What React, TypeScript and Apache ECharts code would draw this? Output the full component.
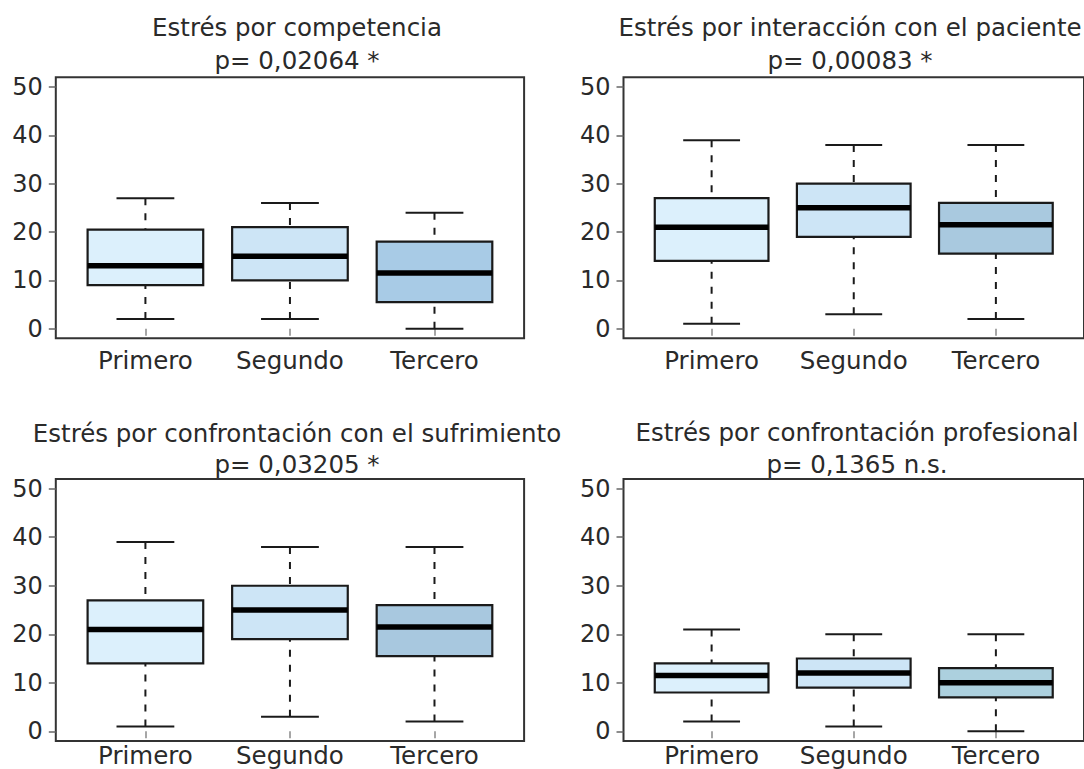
import React, { useEffect, useRef } from "react";
import * as echarts from "echarts";

// ---- data ----
const categories = ["Primero", "Segundo", "Tercero"];
const yTicks = [0, 10, 20, 30, 40, 50];
const titles = [
  "Estrés por competencia",
  "Estrés por interacción con el paciente",
  "Estrés por confrontación con el sufrimiento",
  "Estrés por confrontación profesional",
];
const pLabels = ["p= 0,02064 *", "p= 0,00083 *", "p= 0,03205 *", "p= 0,1365 n.s."];
// each box: [min, Q1, median, Q3, max]
const competencia = [
  [2, 9, 13, 20.5, 27],
  [2, 10, 15, 21, 26],
  [0, 5.5, 11.5, 18, 24],
];
const interaccion = [
  [1, 14, 21, 27, 39],
  [3, 19, 25, 30, 38],
  [2, 15.5, 21.5, 26, 38],
];
const sufrimiento = [
  [1, 14, 21, 27, 39],
  [3, 19, 25, 30, 38],
  [2, 15.5, 21.5, 26, 38],
];
const profesional = [
  [2, 8, 11.5, 14, 21],
  [1, 9, 12, 15, 20],
  [0, 7, 10, 13, 20],
];
const panelsData = [competencia, interaccion, sufrimiento, profesional];

// ---- styles / layout ----
const FONT = "DejaVu Sans";
const TEXT = "#2a2a2a";
const TITLE_SIZE = 24.5;
const LABEL_SIZE = 24.5;
const TICK_SIZE = 24;
const fills = [
  ["#dcf0fc", "#cde5f6", "#a8cbe6"],
  ["#dcf0fc", "#cde5f6", "#a9c9df"],
  ["#dcf0fc", "#cde5f6", "#a8c8df"],
  ["#dcf0fc", "#cde5f6", "#acd0de"],
];
const layouts = [
  { left: 55.8, top: 77.3, width: 468.3, height: 261, cx: 297, t1: 27.5, t2: 60.3, lm: 10 },
  { left: 623.5, top: 77.3, width: 468.3, height: 261, cx: 850, t1: 27.8, t2: 60.5, lm: 10 },
  { left: 55.8, top: 479, width: 468.3, height: 262, cx: 297, t1: 433, t2: 464.2, lm: 2 },
  { left: 623.5, top: 479, width: 468.3, height: 262, cx: 857, t1: 432.5, t2: 464.6, lm: 2 },
];

function makeRenderItem(panel: number) {
  return (params: any, api: any) => {
    const x = api.value(0);
    const lo = api.coord([x, api.value(1)]);
    const q1 = api.coord([x, api.value(2)]);
    const med = api.coord([x, api.value(3)]);
    const q3 = api.coord([x, api.value(4)]);
    const hi = api.coord([x, api.value(5)]);
    const unit = api.size([1, 0])[0];
    const bw = unit * 0.8;
    const cw = unit * 0.4;
    const cx = lo[0];
    const dash = { stroke: "#1a1a1a", lineWidth: 2, lineDash: [7, 8] };
    const solid = { stroke: "#1a1a1a", lineWidth: 2 };
    return {
      type: "group",
      children: [
        { type: "line", shape: { x1: cx, y1: hi[1], x2: cx, y2: q3[1] }, style: dash },
        { type: "line", shape: { x1: cx, y1: lo[1], x2: cx, y2: q1[1] }, style: dash },
        { type: "line", shape: { x1: cx - cw / 2, y1: hi[1], x2: cx + cw / 2, y2: hi[1] }, style: solid },
        { type: "line", shape: { x1: cx - cw / 2, y1: lo[1], x2: cx + cw / 2, y2: lo[1] }, style: solid },
        {
          type: "rect",
          shape: { x: cx - bw / 2, y: q3[1], width: bw, height: q1[1] - q3[1] },
          style: { fill: fills[panel][params.dataIndex], stroke: "#1a1a1a", lineWidth: 2.2 },
        },
        {
          type: "line",
          shape: { x1: cx - bw / 2, y1: med[1], x2: cx + bw / 2, y2: med[1] },
          style: { stroke: "#000", lineWidth: 5.5 },
        },
      ],
    };
  };
}

export default function App() {
  const ref = useRef<HTMLDivElement>(null);
  useEffect(() => {
    if (!ref.current) return;
    const chart = echarts.init(ref.current, null, { renderer: "svg" });
    const grids = layouts.map((l) => ({
      left: l.left,
      top: l.top,
      width: l.width,
      height: l.height,
      show: true,
      borderColor: "#333",
      borderWidth: 2,
      backgroundColor: "#fff",
      containLabel: false,
    }));
    const xAxes = layouts.map((l, i) => ({
      type: "value",
      gridIndex: i,
      min: 0.38,
      max: 3.62,
      splitLine: { show: false },
      axisLine: { show: false },
      axisTick: {
        show: true,
        length: 7,
        customValues: [1, 2, 3],
        lineStyle: { color: "#888", width: 1.5 },
      },
      axisLabel: {
        customValues: [1, 2, 3],
        formatter: (v: number) => categories[Math.round(v) - 1] ?? "",
        margin: l.lm,
        fontSize: LABEL_SIZE,
        fontFamily: FONT,
        color: TEXT,
      },
    }));
    const yAxes = layouts.map((_, i) => ({
      type: "value",
      gridIndex: i,
      min: -2,
      max: 52,
      splitLine: { show: false },
      axisLine: { show: false },
      axisTick: {
        show: true,
        length: 7,
        customValues: yTicks,
        lineStyle: { color: "#666", width: 1.5 },
      },
      axisLabel: {
        customValues: yTicks,
        margin: 13,
        fontSize: TICK_SIZE,
        fontFamily: FONT,
        color: TEXT,
      },
    }));
    const series = panelsData.map((d, i) => ({
      type: "custom",
      xAxisIndex: i,
      yAxisIndex: i,
      encode: { x: 0, y: [1, 2, 3, 4, 5] },
      data: d.map((s, k) => [k + 1, ...s]),
      renderItem: makeRenderItem(i),
      silent: true,
    }));
    const graphic: any[] = [];
    layouts.forEach((l, i) => {
      [titles[i], pLabels[i]].forEach((t, j) => {
        graphic.push({
          type: "text",
          x: l.cx,
          y: j === 0 ? l.t1 : l.t2,
          silent: true,
          style: {
            text: t,
            fill: TEXT,
            font: `${TITLE_SIZE}px "${FONT}"`,
            fontSize: TITLE_SIZE,
            fontFamily: FONT,
            align: "center",
            verticalAlign: "middle",
            textAlign: "center",
            textVerticalAlign: "middle",
          },
        });
      });
    });
    chart.setOption({
      animation: false,
      backgroundColor: "#fff",
      grid: grids,
      xAxis: xAxes,
      yAxis: yAxes,
      series,
      graphic,
    });
    return () => chart.dispose();
  }, []);
  return (
    <div
      ref={ref}
      style={{ position: "fixed", left: 0, top: 0, width: 1084, height: 769, background: "#fff" }}
    />
  );
}
